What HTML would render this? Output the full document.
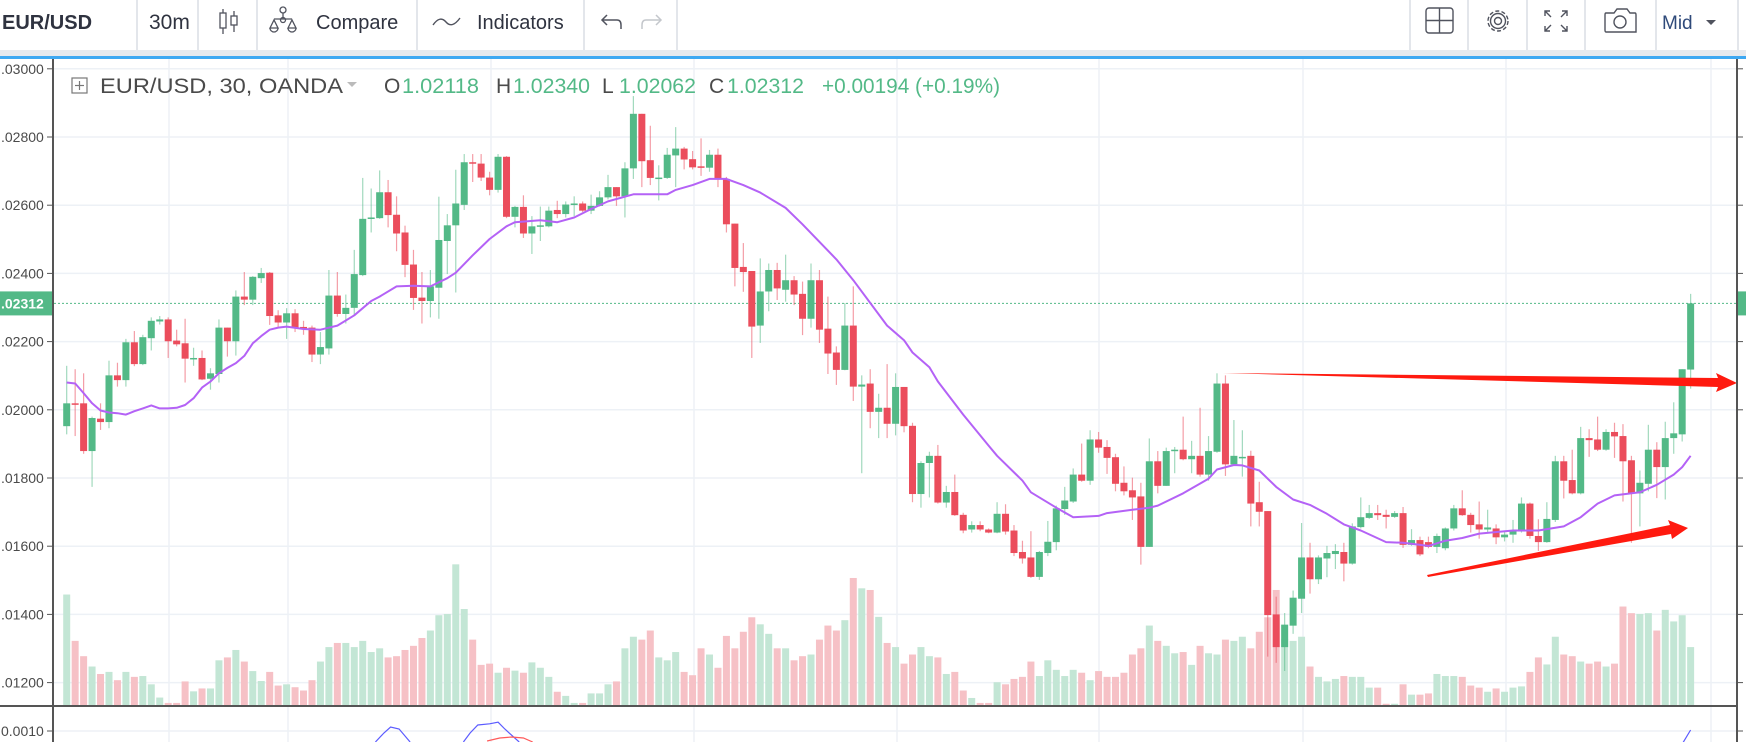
<!DOCTYPE html>
<html><head><meta charset="utf-8">
<style>
html,body{margin:0;padding:0;background:#fff;}
svg{display:block;font-family:"Liberation Sans",Arial,sans-serif;}
</style></head>
<body>
<svg id="chart" width="1746" height="742" viewBox="0 0 1746 742" xmlns="http://www.w3.org/2000/svg">
  <!-- toolbar -->
  <g>
    <rect x="0" y="0" width="1746" height="50" fill="#fff"/>
    <rect x="0" y="50" width="1746" height="6" fill="#e6e9ee"/>
    <rect x="0" y="56" width="1746" height="3" fill="#3ea8f2"/>
    <g stroke="#e3e6eb" stroke-width="2">
      <line x1="137" y1="0" x2="137" y2="50"/><line x1="198" y1="0" x2="198" y2="50"/>
      <line x1="257" y1="0" x2="257" y2="50"/><line x1="417" y1="0" x2="417" y2="50"/>
      <line x1="584" y1="0" x2="584" y2="50"/>
      <line x1="677" y1="0" x2="677" y2="50"/><line x1="1410" y1="0" x2="1410" y2="50"/>
      <line x1="1468" y1="0" x2="1468" y2="50"/><line x1="1527" y1="0" x2="1527" y2="50"/>
      <line x1="1585" y1="0" x2="1585" y2="50"/><line x1="1656" y1="0" x2="1656" y2="50"/>
      <line x1="1738" y1="0" x2="1738" y2="50"/>
    </g>
    <text x="2" y="29" font-size="20" font-weight="bold" fill="#2f3340">EUR/USD</text>
    <text x="149" y="29" font-size="21" fill="#2f3340">30m</text>
    <g stroke="#50535e" stroke-width="1.3" fill="none">
      <line x1="223" y1="9" x2="223" y2="34"/><rect x="220" y="13" width="6" height="15" fill="#fff"/>
      <line x1="234" y1="11" x2="234" y2="32"/><rect x="231" y="16" width="6" height="9" fill="#fff"/>
    </g>
    <g>
      <g stroke="#50535e" stroke-width="1.3" fill="none">
        <circle cx="283" cy="10" r="3"/><line x1="283" y1="13" x2="283" y2="19"/>
        <line x1="274" y1="19" x2="292" y2="19"/><circle cx="283" cy="20" r="2.5"/>
        <path d="M270 28 L274 20 L278 28 Z"/><path d="M288 28 L292 20 L296 28 Z"/>
        <path d="M270 28 A4 4 0 0 0 278 28"/><path d="M288 28 A4 4 0 0 0 296 28"/>
      </g>
      <text x="316" y="29" font-size="20" fill="#2f3340">Compare</text>
    </g>
    <g>
      <path d="M433 25 Q440 15 446 22 T460 18" stroke="#50535e" stroke-width="1.4" fill="none"/>
      <text x="477" y="29" font-size="20" fill="#2f3340">Indicators</text>
    </g>
    <g stroke="#50535e" stroke-width="1.5" fill="none">
      <path d="M602 20 L617 20 Q621 20 621 25 L621 29"/><path d="M607 15 L602 20 L607 25"/>
    </g>
    <g stroke="#c4c7cc" stroke-width="1.5" fill="none">
      <path d="M661 20 L646 20 Q642 20 642 25 L642 29"/><path d="M656 15 L661 20 L656 25"/>
    </g>
    <g stroke="#50535e" stroke-width="1.4" fill="none">
      <rect x="1426" y="8" width="27" height="25" rx="3"/><line x1="1439.5" y1="8" x2="1439.5" y2="33"/><line x1="1426" y1="20.5" x2="1453" y2="20.5"/>
    </g>
    <g stroke="#50535e" stroke-width="1.4" fill="none">
      <circle cx="1498" cy="21" r="10" stroke-dasharray="4 2.3"/><circle cx="1498" cy="21" r="7.5"/><circle cx="1498" cy="21" r="3.5"/>
    </g>
    <g stroke="#50535e" stroke-width="1.4" fill="none">
      <path d="M1545 16 L1545 11 L1550 11 M1545 11 L1551 17"/><path d="M1567 16 L1567 11 L1562 11 M1567 11 L1561 17"/>
      <path d="M1545 26 L1545 31 L1550 31 M1545 31 L1551 25"/><path d="M1567 26 L1567 31 L1562 31 M1567 31 L1561 25"/>
    </g>
    <g stroke="#50535e" stroke-width="1.4" fill="none">
      <path d="M1606 13 L1614 13 L1617 9 L1627 9 L1630 13 L1635 13 Q1636 13 1636 15 L1636 32 L1606 32 Q1605 32 1605 30 L1605 15 Q1605 13 1606 13 Z"/>
      <circle cx="1620" cy="22" r="6"/>
    </g>
    <g>
      <text x="1662" y="29" font-size="19" fill="#2f4a7a">Mid</text>
      <path d="M1706 20 L1716 20 L1711 25 Z" fill="#50535e"/>
    </g>
  </g>
  <g id="plot"></g>
</svg>
<script>
// ---- data ----
const openP = [1952,2019,2019,1879,1974,1964,2101,2087,2198,2134,2210,2259,2265,2203,2195,2150,2152,2091,2105,2241,2201,2332,2323,2386,2402,2277,2256,2283,2243,2241,2162,2180,2335,2281,2299,2395,2560,2562,2638,2572,2520,2426,2329,2319,2358,2495,2541,2601,2726,2722,2681,2645,2742,2566,2595,2517,2538,2538,2586,2574,2602,2605,2584,2598,2623,2653,2626,2708,2868,2732,2680,2680,2746,2766,2735,2714,2710,2748,2677,2546,2419,2407,2247,2347,2410,2352,2380,2340,2267,2380,2238,2168,2117,2247,2068,2077,1994,2006,1959,2067,1953,1753,1844,1865,1728,1759,1692,1649,1662,1649,1640,1695,1646,1583,1567,1510,1580,1612,1709,1731,1810,1792,1913,1891,1861,1786,1764,1746,1598,1849,1777,1879,1883,1855,1865,1810,1877,2077,1840,1861,1865,1729,1703,1400,1304,1367,1446,1567,1503,1564,1577,1583,1549,1656,1683,1697,1692,1686,1697,1604,1618,1612,1598,1594,1652,1711,1692,1664,1649,1652,1626,1634,1643,1725,1630,1612,1677,1849,1794,1755,1917,1913,1883,1935,1923,1852,1755,1783,1883,1832,1917,1928,2118].map(v=>1+v/100000);
const highP = [2129,2119,2107,1980,2019,2144,2138,2208,2231,2220,2271,2275,2271,2235,2267,2182,2174,2122,2265,2241,2350,2404,2392,2416,2404,2292,2298,2295,2261,2247,2228,2410,2404,2338,2469,2680,2649,2702,2674,2626,2540,2469,2404,2410,2625,2574,2704,2750,2750,2750,2698,2750,2744,2598,2629,2568,2596,2596,2613,2611,2626,2611,2631,2641,2689,2653,2726,2920,2868,2833,2717,2768,2829,2771,2759,2796,2762,2766,2683,2546,2489,2407,2444,2429,2431,2455,2392,2376,2429,2410,2332,2186,2313,2362,2101,2119,2047,2134,2107,2067,1962,1849,1877,1897,1777,1810,1698,1673,1673,1652,1729,1723,1662,1616,1644,1586,1674,1719,1774,1828,1901,1940,1935,1911,1871,1834,1801,1786,1916,1879,1889,1891,1980,1909,2006,1923,2107,2101,1970,1940,1880,1789,1703,1452,1404,1470,1668,1610,1573,1601,1606,1610,1667,1743,1721,1721,1707,1703,1715,1650,1628,1628,1637,1655,1721,1764,1698,1731,1707,1664,1646,1677,1743,1728,1679,1729,1865,1865,1883,1950,1943,1980,1943,1962,1958,1865,1822,1956,1905,1965,2022,2119,2340].map(v=>1+v/100000);
const lowP = [1928,1923,1871,1774,1941,1946,2068,2068,2128,2131,2174,2250,2152,2186,2080,2129,2087,2059,2080,2156,2159,2307,2307,2372,2249,2241,2208,2228,2220,2140,2134,2162,2273,2253,2277,2392,2520,2560,2535,2465,2389,2293,2253,2271,2267,2398,2344,2586,2668,2671,2629,2637,2562,2535,2504,2457,2495,2535,2562,2564,2568,2580,2574,2596,2617,2598,2564,2677,2653,2659,2614,2677,2653,2705,2705,2686,2698,2653,2520,2362,2346,2152,2196,2289,2322,2317,2307,2219,2241,2196,2105,2073,2116,2026,1814,1946,1917,1917,1925,1934,1729,1713,1743,1725,1713,1689,1638,1640,1644,1638,1638,1634,1571,1549,1507,1501,1571,1588,1692,1727,1789,1780,1874,1812,1761,1749,1677,1546,1598,1755,1777,1814,1852,1814,1804,1792,1874,1806,1837,1804,1658,1658,1276,1258,1234,1343,1404,1461,1489,1509,1533,1497,1546,1652,1680,1677,1652,1683,1595,1601,1571,1594,1580,1588,1646,1689,1640,1622,1640,1606,1614,1610,1640,1622,1586,1610,1671,1740,1752,1752,1862,1879,1880,1859,1731,1610,1658,1761,1741,1737,1871,1907,2062].map(v=>1+v/100000);
const closeP = [2019,2015,1879,1976,1964,2101,2087,2198,2134,2213,2261,2265,2201,2192,2150,2152,2089,2107,2241,2201,2332,2323,2390,2401,2275,2256,2283,2241,2237,2162,2184,2335,2281,2299,2398,2560,2564,2638,2571,2517,2425,2328,2319,2362,2498,2541,2605,2726,2722,2681,2645,2742,2566,2595,2517,2538,2541,2584,2574,2602,2605,2584,2598,2623,2653,2626,2708,2868,2729,2680,2681,2748,2766,2734,2711,2711,2748,2677,2544,2416,2404,2244,2347,2410,2356,2380,2338,2267,2380,2235,2165,2117,2247,2068,2074,1994,2006,1959,2067,1952,1753,1844,1865,1728,1759,1691,1646,1662,1649,1640,1695,1643,1580,1564,1510,1583,1613,1711,1734,1810,1792,1913,1889,1859,1783,1761,1743,1598,1849,1777,1879,1883,1855,1865,1810,1879,2077,1840,1865,1862,1725,1701,1398,1304,1370,1449,1567,1503,1567,1580,1586,1549,1658,1685,1697,1691,1686,1697,1604,1618,1576,1598,1630,1652,1711,1691,1662,1649,1655,1626,1634,1646,1725,1630,1612,1680,1849,1792,1755,1917,1911,1883,1935,1922,1849,1755,1786,1883,1832,1917,1931,2119,2312].map(v=>1+v/100000);
const volume = [267,155,118,93,75,80,60,80,68,70,50,18,5,5,57,33,40,40,108,115,133,105,82,58,80,47,50,43,35,60,105,140,150,150,140,155,128,137,115,118,133,143,162,180,217,220,340,232,158,97,100,78,90,83,78,103,90,68,32,22,5,5,28,28,50,57,137,165,158,180,115,108,128,80,72,137,122,90,167,137,177,212,195,172,137,137,108,118,122,158,192,180,205,307,282,278,213,150,140,100,122,140,118,115,75,80,35,17,5,5,55,50,63,68,105,70,108,85,70,85,78,60,82,68,68,78,122,137,192,155,143,125,128,97,143,125,122,158,155,165,137,177,212,278,160,155,165,93,68,57,63,70,68,68,42,42,3,3,50,25,25,28,75,70,70,68,47,42,32,40,32,42,45,80,115,98,165,122,118,105,100,105,93,100,238,222,220,222,180,230,202,217,140];
const maIdx = [1,2,3,4,5,6,7,8,9,10,11,12,13,14,15,16,17,18,19,20,21,22,23,24,25,26,27,29,31,33,35,37,38,40,42,44,46,47,49,51,53,54,57,59,61,63,65,68,72,73,75,77,79,81,83,86,88,92,94,98,100,101,103,104,107,110,111,114,115,118,120,123,124,127,129,130,133,136,137,139,140,142,144,146,148,150,152,154,157,159,162,164,166,168,172,175,178,180,182,184,187,189,191,192,193];
const maVal = [2080,2077,2049,2019,1998,1992,1990,1986,1996,2004,2013,2004,2004,2006,2014,2034,2065,2083,2107,2123,2137,2158,2195,2216,2235,2241,2244,2237,2235,2247,2277,2319,2332,2362,2364,2362,2386,2402,2453,2501,2538,2550,2556,2550,2564,2589,2611,2632,2632,2645,2659,2677,2677,2659,2637,2592,2544,2441,2380,2247,2204,2168,2125,2083,1986,1895,1865,1792,1758,1713,1685,1689,1697,1707,1713,1719,1755,1798,1825,1838,1837,1822,1774,1737,1721,1695,1664,1646,1612,1610,1601,1616,1624,1637,1646,1646,1658,1685,1725,1749,1758,1780,1810,1832,1865].map(v=>1+v/100000);
const priceTicks = [1.030,1.028,1.026,1.024,1.022,1.020,1.018,1.016,1.014,1.012];
const tickLabels = [".03000",".02800",".02600",".02400",".02200",".02000",".01800",".01600",".01400",".01200"];
const lastPrice = 1.02312;
const oscBlueIdx = [37.5,38.5,39.3,40.3,41.6,null,47.9,48.7,49.6,51,52,52.8,54.5,null,192,193];
const oscBlueVal = [0.000725,0.00095,0.0011,0.00105,0.000725,null,0.000725,0.00095,0.00115,0.00118,0.00122,0.00105,0.000725,null,0.000675,0.001025];
const oscRedIdx = [50.7,52.2,53.6,55,56.1];
const oscRedVal = [0.00075,0.000825,0.00085,0.000825,0.000725];
const oscTicks = [0.0010];
const oscTickLabels = ["0.0010"];

// ---- scales ----
const NS = "http://www.w3.org/2000/svg";
const X0 = 66.7, STEP = 8.458;
function xAt(i){ return X0 + (i-1)*STEP; }
function yP(p){ return 137 + (1.028 - p)/0.002*68.2; }
function yV(v){ return 705 - v/2.417; }
function yO(v){ return 731 - (v-0.001)*40000; }
const plot = document.getElementById('plot');
function mk(tag, attrs, parent){ const e=document.createElementNS(NS,tag); for(const k in attrs) e.setAttribute(k,attrs[k]); (parent||plot).appendChild(e); return e; }

const defs = mk('defs',{});
const cp = mk('clipPath',{id:'mainclip'},defs); mk('rect',{x:54,y:59,width:1683,height:646},cp);
const cp2 = mk('clipPath',{id:'oscclip'},defs); mk('rect',{x:54,y:707,width:1683,height:35},cp2);

// grids
const grid = mk('g',{stroke:'#edf1f6','stroke-width':1.5});


const vgrid = [169,288,491,694,897,1099,1303,1506,1711];
vgrid.forEach(x=>mk('line',{x1:x,y1:59,x2:x,y2:742},grid));
priceTicks.forEach(p=>mk('line',{x1:54,y1:yP(p),x2:1737,y2:yP(p)},grid));
oscTicks.forEach(v=>mk('line',{x1:54,y1:yO(v),x2:1737,y2:yO(v)},grid));

// volume
const volG = mk('g',{'clip-path':'url(#mainclip)'});


volume.forEach((v,k)=>{
  const i=k+1, up=closeP[k]>=openP[k];
  const r = mk('rect',{x:xAt(i)-3.5,y:yV(v),width:7,height:705-yV(v),fill:up?'#c3e6d5':'#f6c1c6'},volG);
  
  
});

// price line
const pl = mk('line',{x1:54,y1:yP(lastPrice),x2:1737,y2:yP(lastPrice),stroke:'#53b987','stroke-width':1,'stroke-dasharray':'2 2'});



// candles
const cg = mk('g',{'clip-path':'url(#mainclip)'});


openP.forEach((o,k)=>{
  const i=k+1, c=closeP[k], up=c>=o, col=up?'#53b987':'#eb4d5c';
  const g = mk('g',{},cg);
  
  
  const x=xAt(i);
  mk('line',{x1:x,y1:yP(highP[k]),x2:x,y2:yP(lowP[k]),stroke:col,'stroke-width':1.2,'stroke-opacity':0.55},g);
  const top=yP(Math.max(o,c)), bot=yP(Math.min(o,c));
  mk('rect',{x:x-3.5,y:top,width:7,height:Math.max(1.5,bot-top),fill:col},g);
});

// moving average
let d='';
maIdx.forEach((i,k)=>{ d += (k?'L':'M') + xAt(i).toFixed(1)+' '+yP(maVal[k]).toFixed(1)+' '; });
const ma = mk('path',{d:d,fill:'none',stroke:'#b462f6','stroke-width':2,'stroke-linejoin':'round','clip-path':'url(#mainclip)'});



// arrows (annotations)
const a1 = mk('path',{d:'M1223 373 L1718 378 L1716 373 L1737 383 L1716 392 L1718 387 Z',fill:'#ff1a0f'});


const a2 = mk('path',{d:'M1427 575 L1670 525 L1668 520 L1688 528 L1672 539 L1671 534 L1428 577 Z',fill:'#ff1a0f'});



// oscillator
function oscPath(idx,val){ let s='',pen=false; idx.forEach((i,k)=>{ if(i===null){pen=false;return;} s+=(pen?'L':'M')+xAt(i).toFixed(1)+' '+yO(val[k]).toFixed(1)+' '; pen=true; }); return s; }
const ob = mk('path',{d:oscPath(oscBlueIdx,oscBlueVal),fill:'none',stroke:'#5b5bff','stroke-width':1.2,'clip-path':'url(#oscclip)'});


const or = mk('path',{d:oscPath(oscRedIdx,oscRedVal),fill:'none',stroke:'#ff5a5a','stroke-width':1.2,'clip-path':'url(#oscclip)'});



// axes
const ax = mk('g',{});


mk('rect',{x:0,y:59,width:53,height:683,fill:'#fff'},ax);
mk('rect',{x:1738,y:59,width:8,height:683,fill:'#fff'},ax);
mk('line',{x1:53,y1:59,x2:53,y2:742,stroke:'#555','stroke-width':2},ax);
mk('line',{x1:1737,y1:59,x2:1737,y2:742,stroke:'#555','stroke-width':2},ax);
mk('line',{x1:0,y1:706,x2:1737,y2:706,stroke:'#555','stroke-width':2},ax);
priceTicks.forEach((p,k)=>{
  mk('line',{x1:47,y1:yP(p),x2:53,y2:yP(p),stroke:'#555','stroke-width':1},ax);
  mk('line',{x1:1737,y1:yP(p),x2:1743,y2:yP(p),stroke:'#555','stroke-width':1},ax);
  const t = mk('text',{x:1,y:yP(p)+5,'font-size':14,fill:'#4a4a4a'},ax);
  t.textContent = tickLabels[k];
  
  
});
oscTicks.forEach((v,k)=>{
  mk('line',{x1:47,y1:yO(v),x2:53,y2:yO(v),stroke:'#555','stroke-width':1},ax);
  mk('line',{x1:1737,y1:yO(v),x2:1743,y2:yO(v),stroke:'#555','stroke-width':1},ax);
  const t = mk('text',{x:1,y:yO(v)+5,'font-size':14,fill:'#4a4a4a'},ax);
  t.textContent = oscTickLabels[k];
  
  
});
const lpY = yP(lastPrice);
const lb = mk('g',{});


mk('rect',{x:0,y:lpY-12,width:52,height:24,fill:'#53b987'},lb);
const lt = mk('text',{x:1,y:lpY+5,'font-size':14,'font-weight':'bold',fill:'#fff'},lb);
lt.textContent = '.02312';
mk('rect',{x:1738,y:lpY-12,width:8,height:24,fill:'#53b987'},lb);

// legend
const lg = mk('g',{'font-size':21});


mk('rect',{x:72,y:78,width:15,height:15,fill:'none',stroke:'#777','stroke-width':1.2},lg);
mk('line',{x1:79.5,y1:81,x2:79.5,y2:90,stroke:'#777','stroke-width':1.2},lg);
mk('line',{x1:75,y1:85.5,x2:84,y2:85.5,stroke:'#777','stroke-width':1.2},lg);
const legItems = [
  [100,'EUR/USD, 30, OANDA','#4a4a4a',243],
  [384,'O','#4a4a4a',0],[402,'1.02118','#53b987',77],
  [496,'H','#4a4a4a',0],[513,'1.02340','#53b987',77],
  [602,'L','#4a4a4a',0],[619,'1.02062','#53b987',77],
  [709,'C','#4a4a4a',0],[727,'1.02312','#53b987',77],
  [822,'+0.00194 (+0.19%)','#53b987',178]
];
legItems.forEach(it=>{
  const t = mk('text',{x:it[0],y:93,fill:it[2]},lg);
  if(it[3]) { t.setAttribute('textLength', it[3]); t.setAttribute('lengthAdjust','spacingAndGlyphs'); }
  t.textContent = it[1];
  
  
});
mk('path',{d:'M347 82 L357 82 L352 87 Z',fill:'#bbb'},lg);
</script>
</body></html>
